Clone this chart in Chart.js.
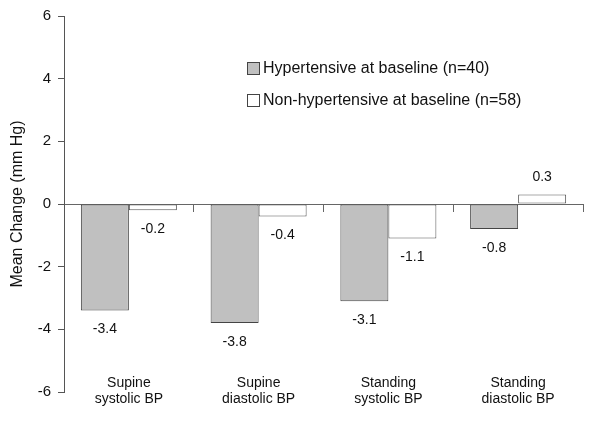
<!DOCTYPE html>
<html>
<head>
<meta charset="utf-8">
<script src="https://cdn.jsdelivr.net/npm/chart.js@4/dist/chart.umd.min.js"></script>
<style>
  body { margin: 0; background: #fff; }
  #wrap { width: 600px; height: 427px; }
</style>
</head>
<body>
<div id="wrap"><canvas id="myChart" width="600" height="427"></canvas></div>
<script>
// datos
const categorias = [
    ["Supine", "systolic BP"],
    ["Supine", "diastolic BP"],
    ["Standing", "systolic BP"],
    ["Standing", "diastolic BP"]
];
const hipertensos = [-3.4, -3.8, -3.1, -0.8];
const noHipertensos = [-0.2, -0.4, -1.1, 0.3];
const ticksY = [-6, -4, -2, 0, 2, 4, 6];

const fuente = "'Liberation Sans', Arial, Helvetica, sans-serif";

// etiquetas con el valor de cada barra
const etiquetasValor = {
    id: "etiquetasValor",
    afterDatasetsDraw(chart) {
        const ctx = chart.ctx;
        ctx.save();
        ctx.font = "14px " + fuente;
        ctx.fillStyle = "#111";
        ctx.textAlign = "center";
        ctx.textBaseline = "middle";
        chart.data.datasets.forEach((ds, i) => {
            const meta = chart.getDatasetMeta(i);
            meta.data.forEach((bar, j) => {
                const v = ds.data[j];
                const y = v < 0 ? bar.y + 19 : bar.y - 17;
                ctx.fillText(v.toFixed(1), bar.x, y);
            });
        });
        ctx.restore();
    }
};

// leyenda dentro del area del grafico
const leyendaInterna = {
    id: "leyendaInterna",
    afterDraw(chart) {
        const ctx = chart.ctx;
        const x = 247, y0 = 62, paso = 32;
        ctx.save();
        ctx.font = "16px " + fuente;
        ctx.textBaseline = "middle";
        chart.data.datasets.forEach((ds, i) => {
            const y = y0 + i * paso;
            ctx.fillStyle = ds.backgroundColor;
            ctx.fillRect(x, y, 12, 12);
            ctx.strokeStyle = "#444";
            ctx.lineWidth = 1;
            ctx.strokeRect(x + 0.5, y + 0.5, 12, 12);
            ctx.fillStyle = "#111";
            ctx.fillText(ds.label, x + 16, y + 7);
        });
        ctx.restore();
    }
};

const config = {
    type: "bar",
    data: {
        labels: categorias,
        datasets: [
            {
                label: "Hypertensive at baseline (n=40)",
                data: hipertensos,
                backgroundColor: "#c0c0c0",
                borderColor: "#444",
                borderWidth: 1,
                borderSkipped: false
            },
            {
                label: "Non-hypertensive at baseline (n=58)",
                data: noHipertensos,
                backgroundColor: "#ffffff",
                borderColor: "#555",
                borderWidth: 1,
                borderSkipped: false
            }
        ]
    },
    options: {
        responsive: false,
        animation: false,
        devicePixelRatio: 1,
        categoryPercentage: 0.74,
        barPercentage: 1,
        layout: { padding: { top: 15, right: 17, bottom: 35, left: 0 } },
        plugins: {
            legend: { display: false },
            tooltip: { enabled: false }
        },
        scales: {
            x: {
                position: { y: -6 },
                offset: true,
                grid: { display: false, drawTicks: false },
                border: { display: false },
                ticks: {
                    color: "#111",
                    font: { family: fuente, size: 14, lineHeight: 1.15 },
                    padding: -17,
                    autoSkip: false,
                    maxRotation: 0
                }
            },
            x2: {
                type: "category",
                position: { y: 0 },
                offset: true,
                grid: { offset: true, drawOnChartArea: false, tickLength: 7, color: "#666" },
                border: { color: "#666" },
                ticks: { display: false }
            },
            y: {
                min: -6,
                max: 6,
                afterBuildTicks(scale) {
                    scale.ticks = ticksY.map(v => ({ value: v }));
                },
                grid: { drawOnChartArea: false, tickLength: 6, color: "#555" },
                border: { color: "#555" },
                ticks: {
                    color: "#111",
                    padding: 7,
                    font: { family: fuente, size: 15 }
                },
                title: {
                    display: true,
                    text: "Mean Change (mm Hg)",
                    color: "#111",
                    font: { family: fuente, size: 16 },
                    padding: { top: 8, bottom: 0 }
                },
                afterFit(scale) { scale.width = 64; }
            }
        }
    },
    plugins: [etiquetasValor, leyendaInterna]
};

const myChart = new Chart(document.getElementById("myChart"), config);
</script>
</body>
</html>
